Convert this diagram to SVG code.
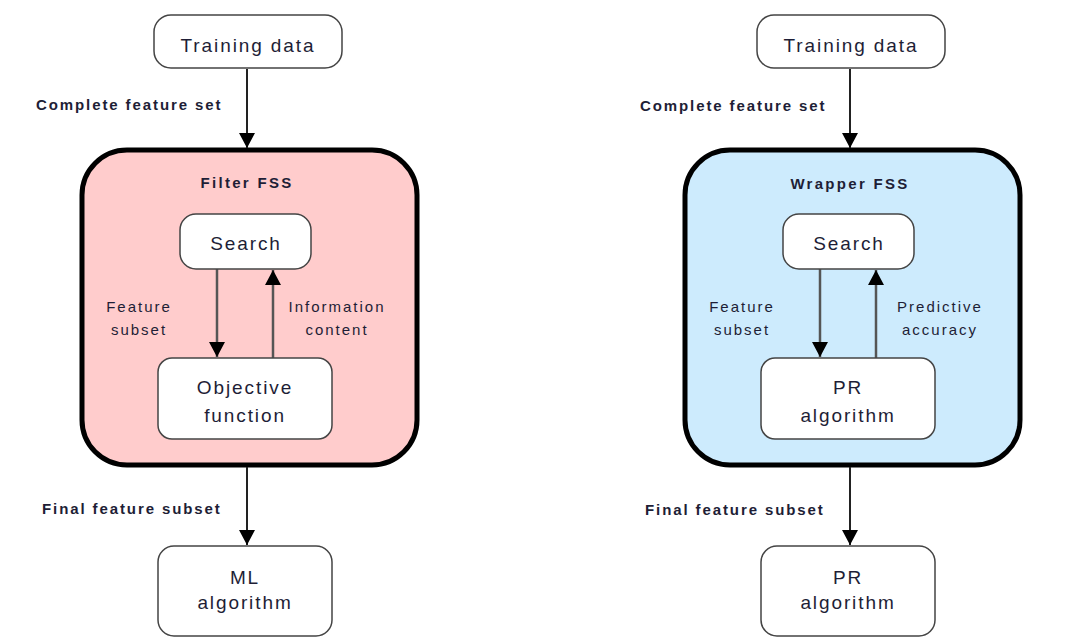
<svg xmlns="http://www.w3.org/2000/svg" width="1065" height="643" viewBox="0 0 1065 643">
<defs>
<marker id="ah" markerUnits="userSpaceOnUse" markerWidth="16" markerHeight="18" refX="15" refY="8" orient="auto">
<path d="M0,0 L15,8 L0,16 Z" fill="#000"/>
</marker>
<style>
.node{fill:#fff;stroke:#444;stroke-width:1.5}
.big{stroke:#000;stroke-width:5}
.t{font-family:"Liberation Sans",Arial,sans-serif;fill:#1e1e36;text-anchor:middle}
.tn{font-size:19px;letter-spacing:1.9px}
.ts{font-size:15px;letter-spacing:2px}
.tb{font-size:15px;font-weight:bold;letter-spacing:1.9px}
.tf{font-size:15px;font-weight:bold;letter-spacing:2.3px}
.c{stroke:#222;stroke-width:2;fill:none;marker-end:url(#ah)}
.ci{stroke:#555;stroke-width:2.5;fill:none;marker-end:url(#ah)}
</style>
</defs>
<rect width="1065" height="643" fill="#fff"/>

<g id="filter-fss">
<rect class="big" x="82" y="150" width="335" height="315" rx="45" fill="#ffcccc"/>
<text class="t tf" x="247" y="188">Filter FSS</text>
</g>
<g id="wrapper-fss">
<rect class="big" x="685" y="150" width="335" height="315" rx="45" fill="#cdebfd"/>
<text class="t tf" x="850" y="189">Wrapper FSS</text>
</g>

<g id="connectors">
<line class="c" x1="247" y1="69" x2="247" y2="148"/>
<line class="ci" x1="217" y1="269" x2="217" y2="357"/>
<line class="ci" x1="273" y1="358" x2="273" y2="270"/>
<line class="c" x1="247" y1="467" x2="247" y2="545"/>
<line class="c" x1="850" y1="69" x2="850" y2="148"/>
<line class="ci" x1="820" y1="269" x2="820" y2="357"/>
<line class="ci" x1="876" y1="358" x2="876" y2="270"/>
<line class="c" x1="850" y1="467" x2="850" y2="545"/>
<text class="t tb" style="text-anchor:start" x="36" y="110">Complete feature set</text>
<text class="t tb" style="text-anchor:start" x="42" y="514">Final feature subset</text>
<text class="t tb" style="text-anchor:start" x="640" y="111">Complete feature set</text>
<text class="t tb" style="text-anchor:start" x="645" y="515">Final feature subset</text>
<text class="t ts" x="139" y="312">Feature</text>
<text class="t ts" x="139" y="335">subset</text>
<text class="t ts" x="337" y="312">Information</text>
<text class="t ts" x="337" y="335">content</text>
<text class="t ts" x="742" y="312">Feature</text>
<text class="t ts" x="742" y="335">subset</text>
<text class="t ts" x="940" y="312">Predictive</text>
<text class="t ts" x="940" y="335">accuracy</text>
</g>

<g id="training-data-left">
<rect class="node" x="154" y="15" width="188" height="53" rx="17"/>
<text class="t tn" x="248" y="52">Training data</text>
</g>
<g id="search-left">
<rect class="node" x="180" y="214" width="131" height="55" rx="16"/>
<text class="t tn" x="246" y="250">Search</text>
</g>
<g id="objective-function">
<rect class="node" x="158" y="358" width="174" height="81" rx="14"/>
<text class="t tn" x="245" y="394">Objective</text>
<text class="t tn" x="245" y="422">function</text>
</g>
<g id="ml-algorithm">
<rect class="node" x="158" y="546" width="174" height="90" rx="16"/>
<text class="t tn" x="245" y="584">ML</text>
<text class="t tn" x="245" y="609">algorithm</text>
</g>

<g id="training-data-right">
<rect class="node" x="757" y="15" width="188" height="53" rx="17"/>
<text class="t tn" x="851" y="52">Training data</text>
</g>
<g id="search-right">
<rect class="node" x="783" y="214" width="131" height="55" rx="16"/>
<text class="t tn" x="849" y="250">Search</text>
</g>
<g id="pr-algorithm-inner">
<rect class="node" x="761" y="358" width="174" height="81" rx="14"/>
<text class="t tn" x="848" y="394">PR</text>
<text class="t tn" x="848" y="422">algorithm</text>
</g>
<g id="pr-algorithm-bottom">
<rect class="node" x="761" y="546" width="174" height="90" rx="16"/>
<text class="t tn" x="848" y="584">PR</text>
<text class="t tn" x="848" y="609">algorithm</text>
</g>
</svg>
